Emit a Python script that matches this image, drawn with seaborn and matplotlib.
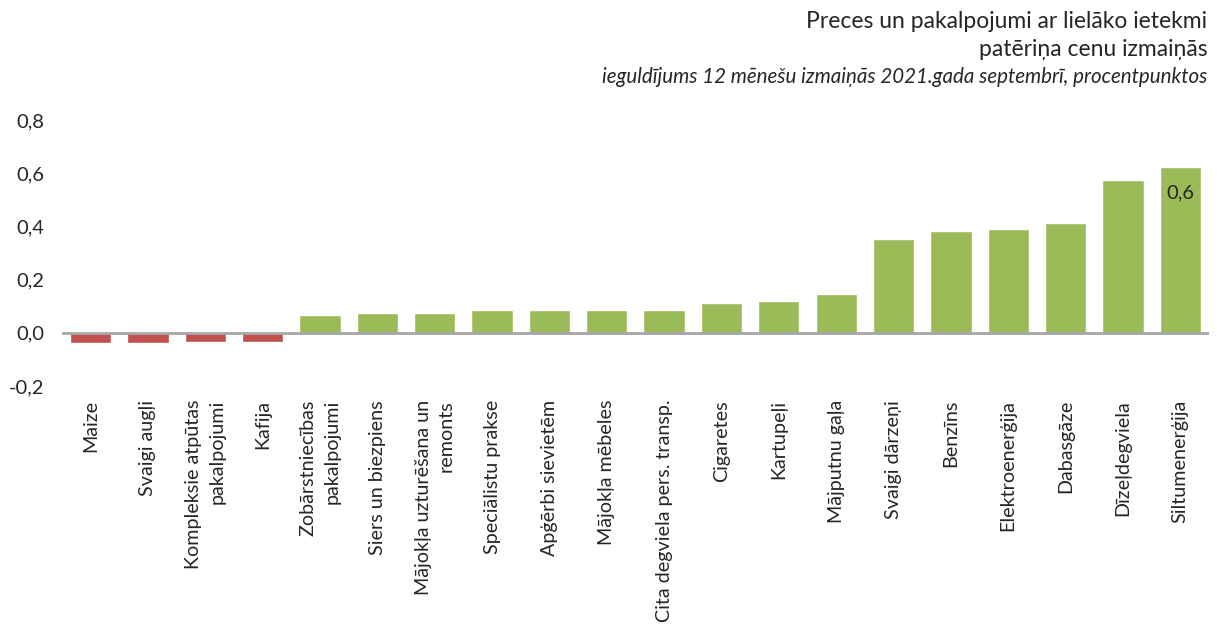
import matplotlib
matplotlib.use('Agg')
import matplotlib.pyplot as plt
import seaborn as sns
import pandas as pd

# dati: ieguldījums 12 mēnešu izmaiņās, procentpunktos
categories = [
    'Maize', 'Svaigi augļi', 'Kompleksie atpūtas\npakalpojumi', 'Kafija',
    'Zobārstniecības\npakalpojumi', 'Siers un biezpiens',
    'Mājokļa uzturēšana un\nremonts', 'Speciālistu prakse', 'Apģērbi sievietēm',
    'Mājokļa mēbeles', 'Cita degviela pers. transp.', 'Cigaretes', 'Kartupeļi',
    'Mājputnu gaļa', 'Svaigi dārzeņi', 'Benzīns', 'Elektroenerģija',
    'Dabasgāze', 'Dīzeļdegviela', 'Siltumenerģija'
]
values = [-0.037, -0.037, -0.033, -0.033, 0.068, 0.073, 0.073, 0.084, 0.084,
          0.084, 0.087, 0.113, 0.120, 0.147, 0.354, 0.382, 0.390, 0.412,
          0.575, 0.625]
yticks = [-0.2, 0.0, 0.2, 0.4, 0.6, 0.8]

sns.set_style('white')
plt.rcParams['font.family'] = ['Lato', 'DejaVu Sans']

df = pd.DataFrame({'cat': categories, 'val': values})
colors = ['#C0504D' if v < 0 else '#9BBB59' for v in values]

fig = plt.figure(figsize=(12.17, 6.33), dpi=100)
ax = fig.add_axes([0.0509, 1 - 386 / 633, 0.9425, 266 / 633])
sns.barplot(data=df, x='cat', y='val', hue='cat', palette=colors,
            legend=False, width=0.72, ax=ax, saturation=1)

ax.set_ylim(-0.2, 0.8)
ax.set_yticks(yticks)
ax.set_yticklabels([f'{t:.1f}'.replace('.', ',') for t in yticks], fontsize=14.5)
ax.set_xlim(-0.5, len(categories) - 0.5)
ax.tick_params(axis='x', length=0, pad=10)
ax.tick_params(axis='y', length=0, pad=13)
ax.set_xticks(range(len(categories)))
ax.set_xticklabels(categories, rotation=90, fontsize=14.2, ha='center',
                   va='top', multialignment='right', linespacing=1.45)
ax.set_xlabel('')
ax.set_ylabel('')
for s in ax.spines.values():
    s.set_visible(False)
ax.axhline(0, color='#A6A6A6', lw=2, zorder=3)

# vērtības etiķete pēdējam stabiņam
last = len(values) - 1
ax.text(last, values[last] - 0.1, f'{values[last]:.1f}'.replace('.', ','),
        ha='center', va='center', fontsize=14.5)

fig.text(0.992, 1 - 22 / 633, 'Preces un pakalpojumi ar lielāko ietekmi',
         ha='right', va='center', fontsize=16.5)
fig.text(0.992, 1 - 50 / 633, 'patēriņa cenu izmaiņās',
         ha='right', va='center', fontsize=16.5)
fig.text(0.992, 1 - 77 / 633, 'ieguldījums 12 mēnešu izmaiņās 2021.gada septembrī, procentpunktos',
         ha='right', va='center', fontsize=14.8, style='italic')

fig.savefig('out.png', dpi=100)
